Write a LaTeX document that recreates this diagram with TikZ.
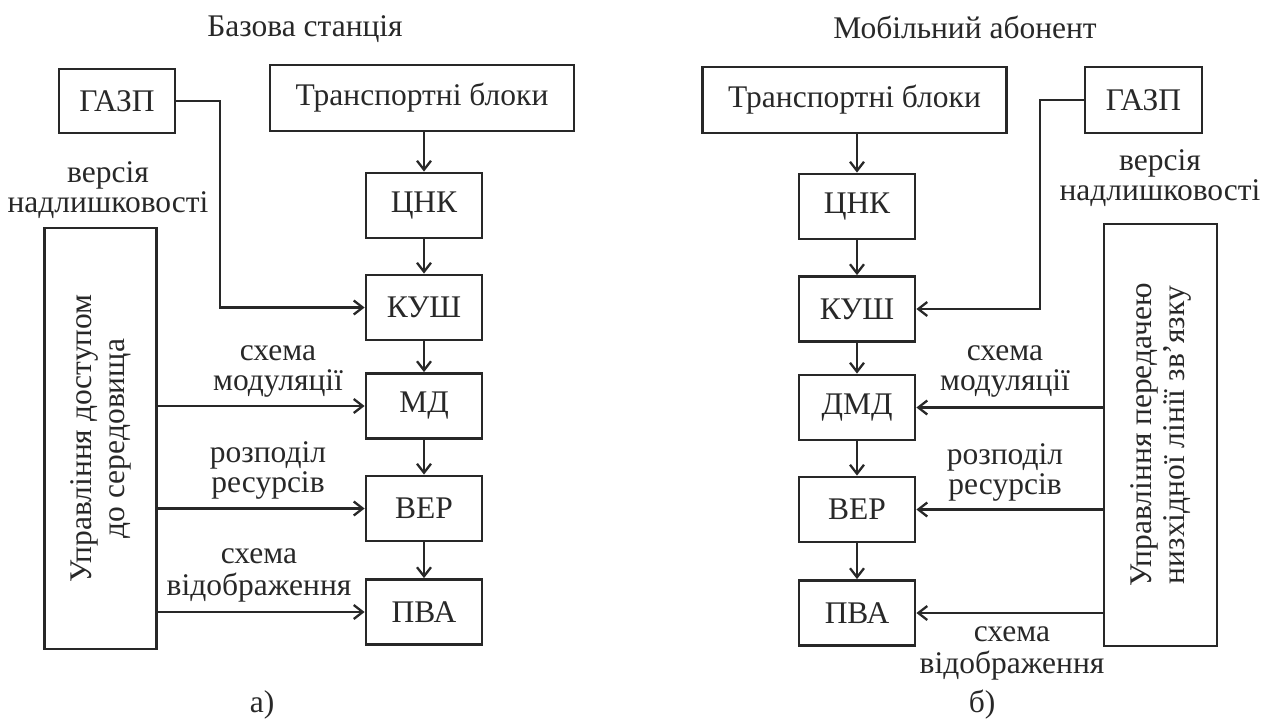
\documentclass[tikz,border=0pt]{standalone}
\usepackage{fontspec}
\setmainfont{Liberation Serif}
\usetikzlibrary{arrows.meta}
\definecolor{ink}{RGB}{40,40,40}
\newcommand{\twoline}[2]{\begin{tabular}[b]{@{}c@{}}#1\\#2\end{tabular}}
\begin{document}
\begin{tikzpicture}[x=1pt,y=-1pt,
  every node/.style={text=ink, font=\fontsize{31.5}{29.5}\selectfont},
  blk/.style={draw=ink, line width=2.8pt, minimum width=116pt, minimum height=65pt, inner sep=0pt},
  wide/.style={blk, minimum width=304pt, minimum height=66pt},
  tall/.style={draw=ink, line width=2.8pt, rotate=90, minimum width=421pt, minimum height=112pt, inner sep=0pt, align=center, font=\fontsize{31.5}{33}\selectfont},
  lbl/.style={anchor=base, inner sep=0pt},
  arr/.style={draw=ink, line width=2.3pt, -{Straight Barb[length=9pt,width=14pt]}},
]
\useasboundingbox (0,0) rectangle (1273,724);

% ---------- a) base station ----------
\node (titleL) [lbl] at (305,36) {Базова станція};
\node (GL) [blk, minimum height=64pt] at (117,101) {ГАЗП};
\node (TL) [wide] at (422,98) {Транспортні блоки};
\node (CL) [blk] at (424,205.5) {ЦНК};
\node (KL) [blk] at (424,307.5) {КУШ};
\node (ML) [blk] at (424,406) {МД};
\node (VL) [blk] at (424,508.5) {ВЕР};
\node (PL) [blk] at (424,612) {ПВА};
\node (bigL) [tall] at (100.5,438.5) {Управління доступом\\до середовища};

\node (lv) [lbl] at (108,212) {\twoline{версія}{надлишковості}};
\node (lm) [lbl] at (278,390) {\twoline{схема}{модуляції}};
\node (lr) [lbl] at (268,492) {\twoline{розподіл}{ресурсів}};
\node (ls) [lbl] at (259,595) {\twoline{схема}{відображення}};
\node (capA) [lbl] at (262,712) {а)};

\draw[arr] (CL.north |- TL.south) -- (CL.north);
\draw[arr] (CL) -- (KL);
\draw[arr] (KL) -- (ML);
\draw[arr] (ML) -- (VL);
\draw[arr] (VL) -- (PL);
\coordinate (bL) at (220,0);
\draw[arr] (GL.east) -| (bL |- KL.west) -- (KL.west);
\draw[arr] (bigL.south |- ML.west) -- (ML.west);
\draw[arr] (bigL.south |- VL.west) -- (VL.west);
\draw[arr] (bigL.south |- PL.west) -- (PL.west);

% ---------- b) mobile subscriber ----------
\node (titleR) [lbl] at (965,38) {Мобільний абонент};
\node (TR) [wide] at (854.5,100) {Транспортні блоки};
\node (GR) [blk, minimum width=117pt, minimum height=66pt] at (1143.5,100) {ГАЗП};
\node (CR) [blk] at (857,206.5) {ЦНК};
\node (KR) [blk] at (857,309) {КУШ};
\node (DR) [blk] at (857,407.5) {ДМД};
\node (VR) [blk] at (857,509.5) {ВЕР};
\node (PR) [blk] at (857,613) {ПВА};
\node (bigR) [tall, minimum width=422pt, minimum height=113pt] at (1160.5,435) {Управління передачею\\низхідної лінії зв’язку};

\node (rv) [lbl] at (1160,200) {\twoline{версія}{надлишковості}};
\node (rm) [lbl] at (1005,390) {\twoline{схема}{модуляції}};
\node (rr) [lbl] at (1005,494) {\twoline{розподіл}{ресурсів}};
\node (rs) [lbl] at (1012,673) {\twoline{схема}{відображення}};
\node (capB) [lbl] at (982,712) {б)};

\draw[arr] (CR.north |- TR.south) -- (CR.north);
\draw[arr] (CR) -- (KR);
\draw[arr] (KR) -- (DR);
\draw[arr] (DR) -- (VR);
\draw[arr] (VR) -- (PR);
\coordinate (bR) at (1040,0);
\draw[arr] (GR.west) -| (bR |- KR.east) -- (KR.east);
\draw[arr] (bigR.north |- DR.east) -- (DR.east);
\draw[arr] (bigR.north |- VR.east) -- (VR.east);
\draw[arr] (bigR.north |- PR.east) -- (PR.east);
\end{tikzpicture}
\end{document}
